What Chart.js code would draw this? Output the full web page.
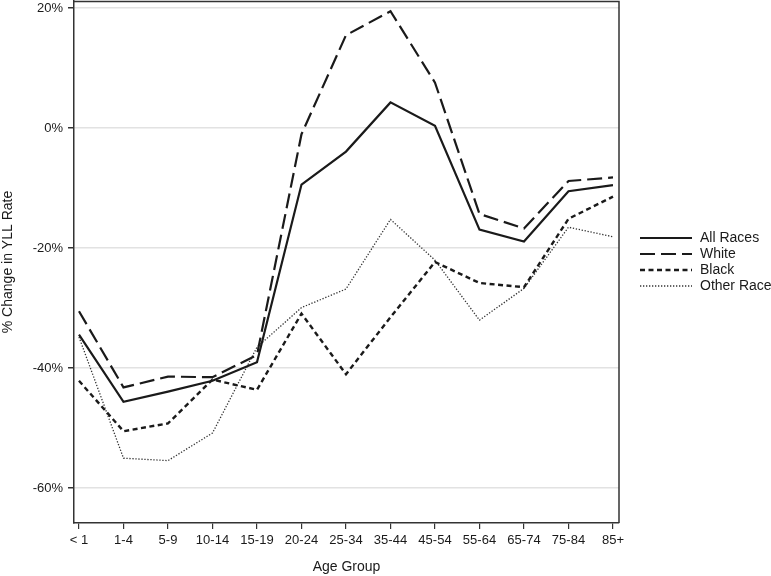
<!DOCTYPE html>
<html>
<head>
<meta charset="utf-8">
<script src="https://cdn.jsdelivr.net/npm/chart.js@4.4.1/dist/chart.umd.min.js"></script>
<style>
  html, body { margin: 0; padding: 0; background: #fff; }
  #wrap { width: 771px; height: 576px; position: relative; }
</style>
</head>
<body>
<div id="wrap"><canvas id="c"></canvas></div>
<script>
'use strict';

var ageGroups = ['< 1', '1-4', '5-9', '10-14', '15-19', '20-24', '25-34', '35-44', '45-54', '55-64', '65-74', '75-84', '85+'];
var allRaces = [-34.4, -45.6, -43.9, -42.1, -39.0, -9.4, -3.9, 4.3, 0.4, -16.9, -18.9, -10.5, -9.5];
var white = [-30.5, -43.2, -41.4, -41.5, -37.8, -1.0, 15.5, 19.5, 7.6, -14.3, -16.7, -8.8, -8.2];
var black = [-42.1, -50.5, -49.2, -41.9, -43.6, -30.9, -41.0, -31.5, -22.3, -25.8, -26.5, -15.1, -11.4];
var otherRace = [-34.8, -55.0, -55.4, -50.8, -36.5, -29.9, -26.8, -15.2, -22.0, -32.0, -26.7, -16.5, -18.1];
var yTicks = [-60, -40, -20, 0, 20];

var FONT = '"Liberation Sans", Arial, sans-serif';
var INK = '#1a1a1a';

function points(values) {
    return values.map(function(v, i) { return { x: i, y: v }; });
}

function series(label, values, dash, width, color) {
    return {
        label: label,
        data: points(values),
        borderColor: color || INK,
        borderWidth: width,
        borderDash: dash,
        pointRadius: 0,
        fill: false,
        tension: 0
    };
}

function noEdgePadding(scale) {
    scale.paddingTop = 0;
    scale.paddingBottom = 0;
    scale.paddingLeft = 0;
    scale.paddingRight = 0;
}

// frame on top/right + legend on the right side
var framePlugin = {
    id: 'frameAndLegend',
    afterDraw: function(chart) {
        var ctx = chart.ctx;
        var a = chart.chartArea;
        ctx.save();
        ctx.strokeStyle = '#333';
        ctx.lineWidth = 1.5;
        ctx.setLineDash([]);
        ctx.beginPath();
        ctx.moveTo(a.left, a.top + 0.5);
        ctx.lineTo(a.right, a.top + 0.5);
        ctx.lineTo(a.right, a.bottom);
        ctx.stroke();

        var x0 = a.right + 21;
        var x1 = x0 + 52;
        var midY = (a.top + a.bottom) / 2;
        ctx.font = '14px ' + FONT;
        ctx.textAlign = 'left';
        ctx.textBaseline = 'middle';
        chart.data.datasets.forEach(function(ds, i) {
            var y = Math.round(midY + (i - 1.5) * 16.3);
            ctx.strokeStyle = ds.borderColor;
            ctx.lineWidth = ds.borderWidth;
            ctx.setLineDash(ds.borderDash || []);
            ctx.beginPath();
            ctx.moveTo(x0, y);
            ctx.lineTo(x1, y);
            ctx.stroke();
            ctx.setLineDash([]);
            ctx.fillStyle = INK;
            ctx.fillText(ds.label, x1 + 8, y);
        });
        ctx.restore();
    }
};

var ctx = document.getElementById('c').getContext('2d');
new Chart(ctx, {
    type: 'line',
    data: {
        datasets: [
            series('All Races', allRaces, [], 2.2),
            series('White', white, [15, 6], 2.2),
            series('Black', black, [5, 3.5], 2.4),
            series('Other Race', otherRace, [1.3, 1.7], 1.3, '#333')
        ]
    },
    options: {
        responsive: true,
        maintainAspectRatio: false,
        animation: false,
        devicePixelRatio: 1,
        layout: { padding: { top: 1, right: 152, left: 0, bottom: 0 } },
        plugins: {
            legend: { display: false },
            tooltip: { enabled: false }
        },
        scales: {
            x: {
                type: 'linear',
                min: -0.112,
                max: 12.135,
                afterBuildTicks: function(scale) {
                    scale.ticks = ageGroups.map(function(g, i) { return { value: i }; });
                },
                afterFit: function(scale) {
                    scale.height = 53;
                    noEdgePadding(scale);
                },
                ticks: {
                    autoSkip: false,
                    maxRotation: 0,
                    padding: 4,
                    color: INK,
                    font: { family: FONT, size: 13 },
                    callback: function(v) { return ageGroups[v]; }
                },
                grid: {
                    drawOnChartArea: false,
                    drawTicks: true,
                    tickLength: 6,
                    tickColor: '#333',
                    lineWidth: 1.2
                },
                border: { display: true, color: '#333', width: 1.5 },
                title: {
                    display: true,
                    text: 'Age Group',
                    color: INK,
                    font: { family: FONT, size: 14 },
                    padding: { top: 0, bottom: 0 }
                }
            },
            y: {
                min: -65.8,
                max: 21.2,
                afterBuildTicks: function(scale) {
                    scale.ticks = yTicks.map(function(v) { return { value: v }; });
                },
                afterFit: function(scale) {
                    scale.width = 74;
                    noEdgePadding(scale);
                },
                ticks: {
                    padding: 5,
                    color: INK,
                    font: { family: FONT, size: 13 },
                    callback: function(v) { return v + '%'; }
                },
                grid: {
                    color: '#e2e2e2',
                    lineWidth: 1.5,
                    drawTicks: true,
                    tickLength: 6,
                    tickColor: '#333'
                },
                border: { display: true, color: '#333', width: 1.5 },
                title: {
                    display: true,
                    text: '% Change in YLL Rate',
                    color: INK,
                    font: { family: FONT, size: 14 },
                    padding: { top: 0, bottom: 0 }
                }
            }
        }
    },
    plugins: [framePlugin]
});
</script>
</body>
</html>
